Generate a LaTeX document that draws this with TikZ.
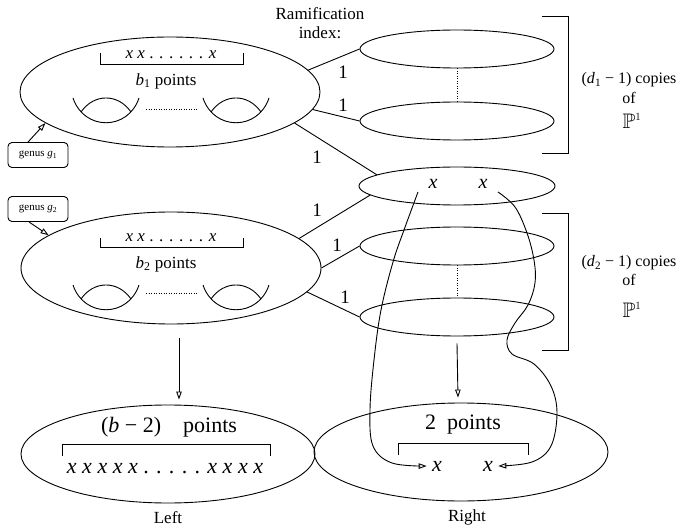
\documentclass[tikz,border=0pt]{standalone}
\usepackage{fontspec}
\usepackage{amssymb}
\setmainfont{Liberation Serif}
\usetikzlibrary{shapes.geometric,arrows.meta}

\begin{document}
\begin{tikzpicture}[x=1pt,y=-1pt,line width=0.9pt,
  oval/.style={draw,ellipse,inner sep=0pt},
  genusbox/.style={draw,rounded corners=4pt,minimum width=60pt,minimum height=25pt,
    inner sep=1pt,font=\fontsize{11}{12}\selectfont},
  tip/.style={-{Triangle[open,length=8pt,width=5.5pt]}},
  txt/.style={inner sep=0pt,font=\fontsize{17}{19}\selectfont},
  bigtxt/.style={inner sep=0pt,font=\fontsize{22}{24}\selectfont},
  one/.style={inner sep=0pt,font=\fontsize{19}{20}\selectfont},
  dots/.style={line width=0.8pt,dash pattern=on 0.9pt off 1.6pt},
  handle/.pic={
    \draw (-33,-10) .. controls (-22,23) and (22,23) .. (33,-10);
    \draw (-25,4) .. controls (-12,-14.7) and (12,-14.7) .. (25,4);
  }]
\useasboundingbox (0,0) rectangle (689,532);

% curves of genus g1 and g2
\node[oval,minimum width=300pt,minimum height=110pt] (g1) at (170,92) {};
\node[oval,minimum width=300pt,minimum height=112pt] (g2) at (171,268) {};

% copies of P^1 and the middle component
\node[oval,minimum width=194pt,minimum height=38pt] (p1) at (457,49) {};
\node[oval,minimum width=194pt,minimum height=38pt] (p2) at (457,121) {};
\node[oval,minimum width=196pt,minimum height=38pt] (mid) at (457,186) {};
\node[oval,minimum width=194pt,minimum height=38pt] (p3) at (457,246) {};
\node[oval,minimum width=194pt,minimum height=38pt] (p4) at (457,317) {};

% limit components
\node[oval,minimum width=294pt,minimum height=98pt] (left) at (168,454) {};
\node[oval,minimum width=294pt,minimum height=98pt] (right) at (461,452) {};

% contents of the g1 component
\draw (100,53) |- (243,64) -- (243,53);
\node[txt] (r1) at (171,55) {\textit{x x} . . . . . . \textit{x}};
\node[txt] (b1) at (166,81) {\textit{b}\textsubscript{1} points};
\pic at (106,108) {handle};
\pic at (236,108) {handle};
\draw[dots] (146,109) -- (198,109);

% contents of the g2 component
\draw (100,238) |- (243,247) -- (243,238);
\node[txt] (r2) at (171,238) {\textit{x x} . . . . . . \textit{x}};
\node[txt] (b2) at (166,264) {\textit{b}\textsubscript{2} points};
\pic at (106,295) {handle};
\pic at (236,295) {handle};
\draw[dots] (146,293) -- (198,293);

% genus labels
\node[genusbox] (gb1) at (38,155) {genus \textit{g}\textsubscript{1}};
\node[genusbox] (gb2) at (38,209) {genus \textit{g}\textsubscript{2}};
\draw[tip] ([xshift=-10pt]gb1.north) -- (g1.194);
\draw[tip] ([xshift=-9pt]gb2.south) -- (g2.165);

% ramification index
\node[txt] (ram) at (320,14) {Ramification};
\node[txt] (idx) at (320,33) {index:};

% edges with ramification index 1
\draw (g1.9) -- (p1.west);
\draw (g1.-7) -- (p2.west);
\draw (g1.-14) -- (mid.172);
\draw (g2.13) -- (mid.186);
\draw (g2.0) -- (p3.west);
\draw (g2.-10) -- (p4.west);
\node[one] (e1) at (343,72) {1};
\node[one] (e2) at (343,105) {1};
\node[one] (e3) at (317,157) {1};
\node[one] (e4) at (317,210) {1};
\node[one] (e5) at (337,245) {1};
\node[one] (e6) at (345,297) {1};

\draw[dots] (p1.south) -- (p2.north);
\draw[dots] (p3.south) -- (p4.north);

% brackets of copies
\draw (542,16) -| (568,153) -- (542,153);
\draw (542,213) -| (568,350) -- (542,350);
\node[txt,font=\fontsize{16}{18}\selectfont] (c1) at (629,80) {(\textit{d}\textsubscript{1} − 1) copies};
\node[txt,font=\fontsize{16}{18}\selectfont] (o1) at (629,98) {of};
\node[txt] (pp1) at (632,121) {\fontsize{21}{22}\selectfont$\mathbb{P}^{\scriptscriptstyle 1}$};
\node[txt,font=\fontsize{16}{18}\selectfont] (c2) at (629,263) {(\textit{d}\textsubscript{2} − 1) copies};
\node[txt,font=\fontsize{16}{18}\selectfont] (o2) at (629,280) {of};
\node[txt] (pp2) at (632,310) {\fontsize{21}{22}\selectfont$\mathbb{P}^{\scriptscriptstyle 1}$};

% the two marked points
\node[txt,font=\fontsize{20}{22}\selectfont] (xa) at (433,184) {\textit{x}};
\node[txt,font=\fontsize{20}{22}\selectfont] (xb) at (483,184) {\textit{x}};

% contents of the limit components
\node[bigtxt] (bl) at (169,427) {(\textit{b} − 2)\quad points};
\draw (62,456) |- (270,444) -- (270,456);
\node[bigtxt] (rl) at (165,469) {\textit{x x x x x} . . . . . \textit{x x x x}};
\node[bigtxt] (br) at (463,425) {2\enspace points};
\draw (398,455) |- (528,443) -- (528,455);
\node[bigtxt] (ya) at (437,466) {\textit{x}};
\node[bigtxt] (yb) at (488,466) {\textit{x}};
\node[txt] (lt) at (168,518) {Left};
\node[txt] (rt) at (467,517) {Right};

% projections
\draw[tip] ([xshift=8pt,yshift=-14pt]g2.south) -- ([xshift=11pt,yshift=5pt]left.north);
\draw[tip] ([yshift=-7pt]p4.south) -- ([xshift=-3pt,yshift=5pt]right.north);

% paths of the marked points
\coordinate (sa) at ([xshift=-15pt,yshift=-8pt]xa.center);
\coordinate (ta) at ([xshift=-5pt]ya.west);
\coordinate (sb) at ([xshift=15pt,yshift=-8pt]xb.center);
\coordinate (tb) at ([xshift=5pt]yb.east);
\draw[tip] plot[smooth,tension=0.6] coordinates {(sa) (404,230) (393,262) (381,310) (374,360) (370,410) (373,446) (392,463) (ta)};
\draw[tip] plot[smooth,tension=0.6] coordinates {(sb) (515,207) (527,233) (534,260) (535,283) (528,305) (515,323) (507,340) (512,354) (534,364) (551,386) (557,413) (551,446) (532,462) (tb)};
\end{tikzpicture}
\end{document}
